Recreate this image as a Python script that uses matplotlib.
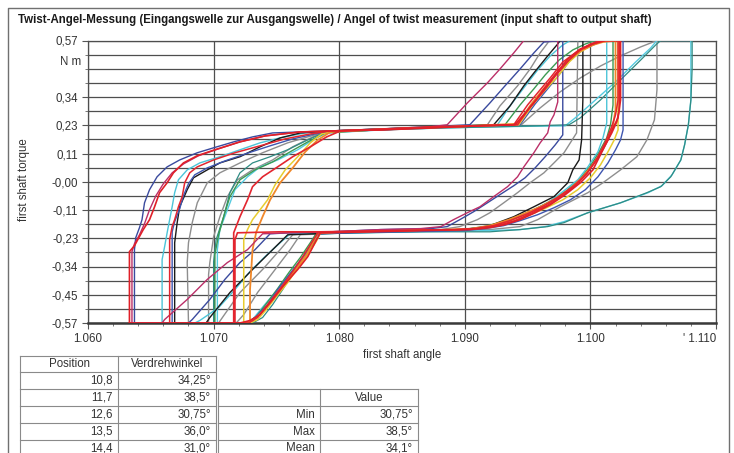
import matplotlib
matplotlib.use('Agg')
import numpy as np
import matplotlib.pyplot as plt
from matplotlib.lines import Line2D

plt.rcParams['font.family'] = ['Liberation Sans', 'DejaVu Sans']

crimson_loop = [
    (1.0635, -0.570), (1.0635, -0.282), (1.0637, -0.250), (1.0641, -0.214), (1.0645, -0.169),
    (1.0649, -0.113), (1.0654, -0.057), (1.0660, -0.008), (1.0667, 0.036), (1.0676, 0.072),
    (1.0688, 0.105), (1.0704, 0.133), (1.0721, 0.161), (1.0741, 0.185), (1.0769, 0.201),
    (1.0793, 0.205), (1.0833, 0.209), (1.0865, 0.217), (1.0886, 0.230), (1.0902, 0.318),
    (1.0918, 0.399), (1.0928, 0.455), (1.0939, 0.520), (1.0947, 0.570), (1.0974, 0.570),
    (1.0974, 0.322), (1.0971, 0.270), (1.0968, 0.242), (1.0966, 0.197), (1.0960, 0.157),
    (1.0955, 0.117), (1.0947, 0.060), (1.0942, 0.020), (1.0934, -0.020), (1.0923, -0.060),
    (1.0912, -0.101), (1.0902, -0.125), (1.0891, -0.153), (1.0881, -0.181), (1.0865, -0.189),
    (1.0833, -0.193), (1.0793, -0.202), (1.0761, -0.206), (1.0739, -0.210), (1.0727, -0.274),
    (1.0711, -0.326), (1.0695, -0.394), (1.0679, -0.475), (1.0661, -0.556), (1.0659, -0.570),
    (1.0635, -0.570)]

blue_loop_1 = [
    (1.0637, -0.570), (1.0637, -0.274), (1.0638, -0.226), (1.0641, -0.185), (1.0643, -0.153),
    (1.0645, -0.085), (1.0649, -0.032), (1.0655, 0.020), (1.0663, 0.060), (1.0673, 0.088),
    (1.0687, 0.117), (1.0700, 0.137), (1.0716, 0.161), (1.0731, 0.181), (1.0747, 0.197),
    (1.0769, 0.201), (1.0793, 0.205), (1.0833, 0.213), (1.0873, 0.222), (1.0904, 0.230),
    (1.0920, 0.318), (1.0932, 0.387), (1.0944, 0.455), (1.0955, 0.520), (1.0963, 0.564),
    (1.0978, 0.570), (1.0978, 0.189), (1.0972, 0.149), (1.0964, 0.101), (1.0956, 0.056),
    (1.0948, 0.016), (1.0939, -0.016), (1.0928, -0.052), (1.0918, -0.085), (1.0907, -0.121),
    (1.0896, -0.153), (1.0886, -0.181), (1.0873, -0.189), (1.0833, -0.193), (1.0793, -0.202),
    (1.0761, -0.206), (1.0745, -0.210), (1.0733, -0.274), (1.0721, -0.326), (1.0709, -0.394),
    (1.0697, -0.475), (1.0683, -0.556), (1.0680, -0.570), (1.0637, -0.570)]

red_loop_1 = [
    (1.0633, -0.570), (1.0633, -0.282), (1.0637, -0.258), (1.0640, -0.230), (1.0644, -0.193),
    (1.0649, -0.153), (1.0653, -0.101), (1.0657, -0.044), (1.0663, -0.004), (1.0668, 0.036),
    (1.0676, 0.076), (1.0687, 0.105), (1.0701, 0.129), (1.0721, 0.161), (1.0741, 0.185),
    (1.0769, 0.201), (1.0793, 0.205), (1.0833, 0.209), (1.0873, 0.217), (1.0912, 0.226),
    (1.0940, 0.230), (1.0955, 0.318), (1.0963, 0.375), (1.0971, 0.427), (1.0982, 0.495),
    (1.0992, 0.536), (1.1004, 0.560), (1.1012, 0.570), (1.1024, 0.570), (1.1024, 0.330),
    (1.1022, 0.258), (1.1018, 0.217), (1.1014, 0.169), (1.1008, 0.109), (1.1002, 0.048),
    (1.0992, -0.004), (1.0980, -0.052), (1.0968, -0.093), (1.0956, -0.125), (1.0944, -0.153),
    (1.0932, -0.173), (1.0920, -0.185), (1.0904, -0.193), (1.0865, -0.197), (1.0825, -0.202),
    (1.0785, -0.206), (1.0782, -0.234), (1.0775, -0.302), (1.0767, -0.354), (1.0755, -0.423),
    (1.0745, -0.488), (1.0737, -0.536), (1.0729, -0.560), (1.0721, -0.570), (1.0633, -0.570)]

cyan_loop_1 = [
    (1.0659, -0.570), (1.0659, -0.314), (1.0661, -0.262), (1.0663, -0.206), (1.0665, -0.153),
    (1.0667, -0.101), (1.0669, -0.044), (1.0672, 0.008), (1.0679, 0.048), (1.0689, 0.076),
    (1.0705, 0.101), (1.0721, 0.129), (1.0737, 0.157), (1.0753, 0.177), (1.0773, 0.197),
    (1.0793, 0.205), (1.0833, 0.213), (1.0873, 0.222), (1.0926, 0.230), (1.0936, 0.306),
    (1.0947, 0.379), (1.0958, 0.451), (1.0968, 0.508), (1.0978, 0.552), (1.0984, 0.570),
    (1.1013, 0.570), (1.1013, 0.238), (1.1010, 0.177), (1.1006, 0.121), (1.0998, 0.060),
    (1.0990, 0.008), (1.0978, -0.040), (1.0966, -0.085), (1.0952, -0.121), (1.0939, -0.149),
    (1.0926, -0.173), (1.0912, -0.185), (1.0896, -0.193), (1.0849, -0.197), (1.0801, -0.206),
    (1.0761, -0.210), (1.0753, -0.246), (1.0741, -0.302), (1.0729, -0.362), (1.0717, -0.435),
    (1.0704, -0.508), (1.0689, -0.560), (1.0685, -0.570), (1.0659, -0.570)]

red_loop_2 = [
    (1.0665, -0.570), (1.0665, -0.234), (1.0667, -0.181), (1.0669, -0.153), (1.0672, -0.101),
    (1.0675, -0.060), (1.0677, -0.004), (1.0681, 0.036), (1.0687, 0.060), (1.0700, 0.088),
    (1.0717, 0.117), (1.0737, 0.145), (1.0757, 0.173), (1.0777, 0.193), (1.0793, 0.205),
    (1.0833, 0.213), (1.0873, 0.222), (1.0912, 0.226), (1.0939, 0.230), (1.0950, 0.310),
    (1.0960, 0.371), (1.0968, 0.419), (1.0978, 0.483), (1.0990, 0.528), (1.1000, 0.556),
    (1.1008, 0.570), (1.1022, 0.570), (1.1022, 0.330), (1.1020, 0.270), (1.1017, 0.222),
    (1.1012, 0.161), (1.1006, 0.101), (1.0998, 0.040), (1.0989, -0.012), (1.0978, -0.056),
    (1.0965, -0.097), (1.0952, -0.129), (1.0940, -0.157), (1.0926, -0.177), (1.0912, -0.189),
    (1.0896, -0.193), (1.0849, -0.197), (1.0809, -0.202), (1.0783, -0.206), (1.0779, -0.238),
    (1.0771, -0.302), (1.0763, -0.362), (1.0753, -0.431), (1.0743, -0.496), (1.0735, -0.548),
    (1.0728, -0.570), (1.0665, -0.570)]

blue_loop_2 = [
    (1.0667, -0.570), (1.0667, -0.202), (1.0669, -0.161), (1.0673, -0.109), (1.0676, -0.056),
    (1.0680, -0.008), (1.0685, 0.028), (1.0695, 0.056), (1.0709, 0.084), (1.0728, 0.117),
    (1.0745, 0.145), (1.0763, 0.173), (1.0781, 0.193), (1.0793, 0.205), (1.0841, 0.213),
    (1.0889, 0.222), (1.0944, 0.230), (1.0956, 0.314), (1.0966, 0.375), (1.0975, 0.431),
    (1.0984, 0.491), (1.0994, 0.532), (1.1004, 0.556), (1.1010, 0.570), (1.1026, 0.570),
    (1.1026, 0.209), (1.1024, 0.169), (1.1020, 0.129), (1.1014, 0.076), (1.1006, 0.020),
    (1.0996, -0.032), (1.0984, -0.073), (1.0971, -0.105), (1.0958, -0.133), (1.0944, -0.157),
    (1.0931, -0.177), (1.0916, -0.189), (1.0900, -0.197), (1.0849, -0.202), (1.0809, -0.206),
    (1.0783, -0.210), (1.0779, -0.246), (1.0771, -0.306), (1.0761, -0.370), (1.0751, -0.435),
    (1.0743, -0.496), (1.0733, -0.548), (1.0726, -0.570), (1.0667, -0.570)]

black_loop = [
    (1.0669, -0.570), (1.0669, -0.246), (1.0671, -0.165), (1.0673, -0.101), (1.0679, -0.032),
    (1.0684, 0.016), (1.0695, 0.048), (1.0705, 0.076), (1.0721, 0.101), (1.0737, 0.141),
    (1.0753, 0.177), (1.0769, 0.197), (1.0793, 0.205), (1.0833, 0.213), (1.0881, 0.222),
    (1.0923, 0.230), (1.0936, 0.306), (1.0947, 0.387), (1.0955, 0.439), (1.0966, 0.508),
    (1.0974, 0.556), (1.0976, 0.570), (1.0994, 0.570), (1.0994, 0.330), (1.0993, 0.169),
    (1.0991, 0.088), (1.0986, 0.048), (1.0982, -0.004), (1.0971, -0.060), (1.0955, -0.101),
    (1.0939, -0.141), (1.0918, -0.181), (1.0899, -0.193), (1.0849, -0.197), (1.0801, -0.206),
    (1.0759, -0.214), (1.0747, -0.274), (1.0731, -0.354), (1.0713, -0.447), (1.0697, -0.548),
    (1.0694, -0.570), (1.0669, -0.570)]

gray_loop_1 = [
    (1.0680, -0.570), (1.0679, -0.326), (1.0680, -0.246), (1.0683, -0.165), (1.0687, -0.085),
    (1.0695, -0.004), (1.0705, 0.036), (1.0721, 0.076), (1.0739, 0.117), (1.0759, 0.157),
    (1.0775, 0.181), (1.0790, 0.201), (1.0833, 0.209), (1.0881, 0.222), (1.0918, 0.230),
    (1.0928, 0.306), (1.0942, 0.387), (1.0952, 0.455), (1.0960, 0.520), (1.0966, 0.560),
    (1.0967, 0.570), (1.0990, 0.570), (1.0989, 0.197), (1.0984, 0.157), (1.0979, 0.117),
    (1.0971, 0.076), (1.0963, 0.036), (1.0952, -0.004), (1.0942, -0.044), (1.0931, -0.085),
    (1.0920, -0.125), (1.0910, -0.153), (1.0896, -0.181), (1.0881, -0.193), (1.0833, -0.197),
    (1.0793, -0.206), (1.0763, -0.214), (1.0753, -0.274), (1.0739, -0.354), (1.0721, -0.447),
    (1.0707, -0.548), (1.0704, -0.570), (1.0680, -0.570)]

gray_loop_2 = [
    (1.0696, -0.570), (1.0696, -0.374), (1.0697, -0.326), (1.0700, -0.222), (1.0705, -0.141),
    (1.0711, -0.060), (1.0719, 0.008), (1.0731, 0.048), (1.0747, 0.088), (1.0763, 0.141),
    (1.0779, 0.181), (1.0790, 0.201), (1.0833, 0.209), (1.0881, 0.222), (1.0912, 0.226),
    (1.0945, 0.230), (1.0960, 0.298), (1.0976, 0.363), (1.0992, 0.419), (1.1008, 0.467),
    (1.1024, 0.508), (1.1040, 0.544), (1.1053, 0.570), (1.1053, 0.371), (1.1051, 0.250),
    (1.1045, 0.169), (1.1037, 0.101), (1.1024, 0.048), (1.1010, -0.004), (1.0998, -0.044),
    (1.0976, -0.101), (1.0958, -0.153), (1.0944, -0.181), (1.0920, -0.193), (1.0865, -0.197),
    (1.0809, -0.206), (1.0769, -0.214), (1.0761, -0.274), (1.0749, -0.354), (1.0735, -0.447),
    (1.0724, -0.536), (1.0718, -0.570), (1.0696, -0.570)]

teal_loop = [
    (1.0700, -0.570), (1.0700, -0.323), (1.0702, -0.234), (1.0708, -0.141), (1.0713, -0.044),
    (1.0721, 0.036), (1.0731, 0.076), (1.0745, 0.101), (1.0759, 0.129), (1.0775, 0.169),
    (1.0789, 0.201), (1.0833, 0.209), (1.0881, 0.217), (1.0928, 0.222), (1.0960, 0.226),
    (1.0983, 0.230), (1.0992, 0.258), (1.1008, 0.330), (1.1024, 0.411), (1.1040, 0.491),
    (1.1052, 0.552), (1.1056, 0.570), (1.1081, 0.570), (1.1081, 0.455), (1.1080, 0.330),
    (1.1078, 0.230), (1.1075, 0.149), (1.1072, 0.088), (1.1064, 0.020), (1.1056, -0.020),
    (1.1045, -0.044), (1.1024, -0.085), (1.0998, -0.125), (1.0979, -0.165), (1.0966, -0.181),
    (1.0944, -0.193), (1.0920, -0.202), (1.0865, -0.202), (1.0817, -0.206), (1.0785, -0.210),
    (1.0780, -0.246), (1.0772, -0.306), (1.0764, -0.362), (1.0755, -0.435), (1.0747, -0.496),
    (1.0739, -0.548), (1.0731, -0.570), (1.0700, -0.570)]

cyan_loop_2 = [
    (1.0703, -0.570), (1.0703, -0.274), (1.0705, -0.193), (1.0711, -0.113), (1.0717, -0.032),
    (1.0727, 0.020), (1.0737, 0.060), (1.0751, 0.088), (1.0767, 0.129), (1.0779, 0.169),
    (1.0790, 0.197), (1.0833, 0.209), (1.0881, 0.217), (1.0928, 0.222), (1.0980, 0.226),
    (1.0988, 0.258), (1.1004, 0.330), (1.1020, 0.403), (1.1036, 0.483), (1.1048, 0.540),
    (1.1053, 0.570), (1.1080, 0.570), (1.1080, 0.330), (1.1078, 0.230), (1.1075, 0.149),
    (1.1072, 0.088), (1.1065, 0.028), (1.1057, -0.016), (1.1046, -0.044), (1.1024, -0.085),
    (1.0998, -0.125), (1.0979, -0.161), (1.0964, -0.181), (1.0944, -0.193), (1.0920, -0.197),
    (1.0865, -0.202), (1.0817, -0.206), (1.0783, -0.210), (1.0779, -0.246), (1.0771, -0.306),
    (1.0761, -0.370), (1.0751, -0.435), (1.0740, -0.500), (1.0731, -0.556), (1.0727, -0.570),
    (1.0703, -0.570)]

red_loop_3 = [
    (1.0716, -0.570), (1.0716, -0.206), (1.0721, -0.141), (1.0727, -0.073), (1.0731, -0.020),
    (1.0739, 0.020), (1.0751, 0.060), (1.0763, 0.101), (1.0777, 0.141), (1.0790, 0.181),
    (1.0801, 0.205), (1.0841, 0.213), (1.0889, 0.222), (1.0942, 0.230), (1.0952, 0.302),
    (1.0963, 0.367), (1.0972, 0.427), (1.0983, 0.491), (1.0992, 0.532), (1.1002, 0.556),
    (1.1012, 0.570), (1.1023, 0.570), (1.1023, 0.290), (1.1021, 0.242), (1.1017, 0.197),
    (1.1011, 0.141), (1.1005, 0.088), (1.0997, 0.032), (1.0987, -0.016), (1.0975, -0.060),
    (1.0963, -0.097), (1.0950, -0.129), (1.0936, -0.157), (1.0923, -0.177), (1.0908, -0.189),
    (1.0892, -0.193), (1.0849, -0.197), (1.0785, -0.202), (1.0753, -0.202), (1.0719, -0.206),
    (1.0717, -0.234), (1.0717, -0.570), (1.0716, -0.570)]

yellow_loop = [
    (1.0724, -0.570), (1.0724, -0.234), (1.0727, -0.193), (1.0731, -0.153), (1.0737, -0.113),
    (1.0743, -0.073), (1.0749, -0.012), (1.0757, 0.048), (1.0767, 0.101), (1.0777, 0.157),
    (1.0786, 0.193), (1.0797, 0.205), (1.0841, 0.213), (1.0889, 0.222), (1.0943, 0.230),
    (1.0954, 0.310), (1.0964, 0.371), (1.0973, 0.419), (1.0983, 0.483), (1.0992, 0.524),
    (1.1002, 0.552), (1.1010, 0.570), (1.1022, 0.570), (1.1022, 0.371), (1.1022, 0.209),
    (1.1019, 0.169), (1.1014, 0.121), (1.1008, 0.068), (1.1000, 0.016), (1.0990, -0.032),
    (1.0978, -0.073), (1.0965, -0.105), (1.0952, -0.133), (1.0939, -0.157), (1.0924, -0.177),
    (1.0908, -0.189), (1.0892, -0.193), (1.0849, -0.197), (1.0809, -0.202), (1.0785, -0.206),
    (1.0782, -0.238), (1.0775, -0.294), (1.0767, -0.346), (1.0759, -0.407), (1.0750, -0.463),
    (1.0742, -0.516), (1.0735, -0.556), (1.0729, -0.570), (1.0724, -0.570)]

orange_loop = [
    (1.0729, -0.570), (1.0729, -0.435), (1.0731, -0.274), (1.0734, -0.202), (1.0739, -0.141),
    (1.0745, -0.073), (1.0753, -0.004), (1.0763, 0.056), (1.0773, 0.121), (1.0783, 0.169),
    (1.0793, 0.201), (1.0841, 0.213), (1.0889, 0.222), (1.0942, 0.234), (1.0953, 0.314),
    (1.0962, 0.371), (1.0971, 0.423), (1.0982, 0.487), (1.0992, 0.528), (1.1002, 0.552),
    (1.1010, 0.564), (1.1020, 0.570), (1.1020, 0.290), (1.1018, 0.230), (1.1015, 0.185),
    (1.1010, 0.133), (1.1003, 0.076), (1.0994, 0.020), (1.0984, -0.028), (1.0972, -0.069),
    (1.0960, -0.101), (1.0947, -0.129), (1.0935, -0.153), (1.0920, -0.177), (1.0906, -0.189),
    (1.0890, -0.193), (1.0849, -0.197), (1.0809, -0.202), (1.0783, -0.206), (1.0780, -0.238),
    (1.0774, -0.294), (1.0766, -0.350), (1.0757, -0.411), (1.0748, -0.471), (1.0739, -0.524),
    (1.0731, -0.560), (1.0725, -0.570), (1.0729, -0.570)]

green_loop = [
    (1.0701, -0.570), (1.0701, -0.294), (1.0704, -0.214), (1.0708, -0.141), (1.0713, -0.060),
    (1.0721, 0.008), (1.0733, 0.048), (1.0747, 0.080), (1.0761, 0.121), (1.0775, 0.161),
    (1.0789, 0.197), (1.0841, 0.213), (1.0889, 0.222), (1.0932, 0.230), (1.0944, 0.310),
    (1.0955, 0.375), (1.0964, 0.431), (1.0975, 0.491), (1.0986, 0.532), (1.0996, 0.556),
    (1.1004, 0.570), (1.1018, 0.570), (1.1018, 0.310), (1.1016, 0.230), (1.1013, 0.177),
    (1.1007, 0.121), (1.1000, 0.064), (1.0991, 0.008), (1.0980, -0.040), (1.0967, -0.081),
    (1.0955, -0.113), (1.0942, -0.141), (1.0928, -0.165), (1.0915, -0.181), (1.0899, -0.193),
    (1.0849, -0.197), (1.0809, -0.202), (1.0782, -0.206), (1.0777, -0.246), (1.0769, -0.306),
    (1.0760, -0.366), (1.0751, -0.431), (1.0742, -0.492), (1.0734, -0.544), (1.0727, -0.570),
    (1.0701, -0.570)]

# Achsen
angle_ticks = [1.060, 1.070, 1.080, 1.090, 1.100, 1.110]
angle_labels = ['1.060', '1.070', '1.080', '1.090', '1.100', "' 1.110"]
torque_ticks = [0.57, 0.342, 0.228, 0.114, 0.0, -0.114, -0.228, -0.342, -0.456, -0.57]
torque_labels = ['0,57', '0,34', '0,23', '0,11', '-0,00', '-0,11', '-0,23', '-0,34', '-0,45', '-0,57']

# Tabellen
positions = [10.8, 11.7, 12.6, 13.5, 14.4]
twist_angles = [34.25, 38.5, 30.75, 36.0, 31.0]
stat_names = ['Min', 'Max', 'Mean']
stat_values = [30.75, 38.5, 34.1]

title = ('Twist-Angel-Messung (Eingangswelle zur Ausgangswelle) / '
         'Angel of twist measurement (input shaft to output shaft)')

W, H = 734, 453


def fx(px):
    return px / W


def fy(py):
    return 1 - py / H


def de(v, nd=None):
    s = ('%g' % v) if nd is None else ('%.*f' % (nd, v))
    return s.replace('.', ',')


fig = plt.figure(figsize=(W / 100, H / 100), dpi=100)
fig.patch.set_facecolor('white')

# Rahmen und Titel
fig.add_artist(Line2D([fx(8), fx(8), fx(729), fx(729)], [0, fy(8), fy(8), 0],
                      transform=fig.transFigure, color='#707070', lw=1))
fig.text(fx(18), fy(20), title, fontsize=8.3, fontweight='bold', color='#1a1a1a',
         ha='left', va='center')

ax = fig.add_axes([fx(88), fy(323), fx(716) - fx(88), fy(40.5) - fy(323)])

loops = [
    (gray_loop_2, '#8e8e8e', 1.0),
    (gray_loop_1, '#8e8e8e', 1.0),
    (cyan_loop_2, '#55cbe0', 1.0),
    (teal_loop, '#2f8c84', 0.9),
    (green_loop, '#3c9a52', 1.0),
    (cyan_loop_1, '#4cc4d8', 1.0),
    (black_loop, '#1a1a1a', 1.0),
    (blue_loop_2, '#3f56b0', 1.0),
    (blue_loop_1, '#3a4a9e', 1.0),
    (yellow_loop, '#e8cc30', 1.1),
    (orange_loop, '#f0882a', 1.3),
    (crimson_loop, '#bb2f68', 1.0),
    (red_loop_2, '#e3262f', 1.1),
    (red_loop_3, '#e3262f', 1.2),
    (red_loop_1, '#e02028', 1.2),
]
for pts, col, lw in loops:
    xs = [p[0] for p in pts]
    ys = [p[1] for p in pts]
    ax.plot(xs, ys, color=col, lw=lw, solid_joinstyle='miter', zorder=3)

ax.set_xlim(1.060, 1.110)
ax.set_ylim(-0.57, 0.57)

ax.set_xticks(angle_ticks)
ax.set_xticklabels(angle_labels)
ax.set_xticks(np.arange(1.060, 1.1101, 0.002), minor=True)
ax.set_yticks(torque_ticks)
ax.set_yticklabels(torque_labels)
ax.set_yticks(np.linspace(-0.57, 0.57, 21), minor=True)
ax.xaxis.get_majorticklabels()[-1].set_ha('right')

ax.tick_params(which='major', length=4, width=0.8, color='#555555', labelsize=8.3,
               labelcolor='#333333', pad=3)
ax.tick_params(which='minor', length=2.5, width=0.7, color='#777777')

ax.grid(True, which='both', axis='y', color='#4e4e4e', lw=0.9, zorder=1)
ax.grid(True, which='major', axis='x', color='#4e4e4e', lw=0.9, zorder=1)

for side in ['top', 'right', 'left']:
    ax.spines[side].set_color('#4e4e4e')
    ax.spines[side].set_linewidth(0.9)
ax.spines['bottom'].set_color('#3a3a3a')
ax.spines['bottom'].set_linewidth(1.8)

ax.text(-0.011, 0.485, 'N m', transform=ax.get_yaxis_transform(), ha='right', va='center',
        fontsize=8.3, color='#333333')

fig.text(fx(24), fy(180), 'first shaft torque', rotation=90, ha='center', va='center',
         fontsize=8.3, color='#333333')
fig.text(fx(402), fy(355), 'first shaft angle', ha='center', va='center',
         fontsize=8.3, color='#333333')


# Tabellen zeichnen
def draw_table(left, top, widths, row_h, rows, first_row):
    right = left + sum(widths)
    n = first_row + len(rows)
    line_kw = dict(transform=fig.transFigure, color='#8a8a8a', lw=0.8)
    for i in range(first_row, n + 1):
        y = top + i * row_h
        fig.add_artist(Line2D([fx(left), fx(right)], [fy(y), fy(y)], **line_kw))
    xs = [left]
    for w in widths:
        xs.append(xs[-1] + w)
    for x in xs:
        fig.add_artist(Line2D([fx(x), fx(x)], [fy(top + first_row * row_h), fy(H + 20)], **line_kw))
    for r, row in enumerate(rows):
        yc = top + (first_row + r + 0.5) * row_h
        for c, txt in enumerate(row):
            if r == 0:
                fig.text(fx(xs[c] + widths[c] / 2), fy(yc), txt, ha='center', va='center',
                         fontsize=8.3, color='#333333')
            else:
                fig.text(fx(xs[c + 1] - 5), fy(yc), txt, ha='right', va='center',
                         fontsize=8.3, color='#333333')


row_h = 16.9
left_rows = [['Position', 'Verdrehwinkel']]
for p, a in zip(positions, twist_angles):
    left_rows.append([de(p, 1), de(a) + ('' if a != int(a) else ',0') + '°'])
draw_table(20, 355.5, [98, 98], row_h, left_rows, 0)

right_rows = [['', 'Value']]
for n_, v in zip(stat_names, stat_values):
    right_rows.append([n_, de(v) + '°'])
draw_table(218, 355.5, [102, 98], row_h, right_rows, 2)

fig.savefig('out.png', dpi=100, facecolor='white')
